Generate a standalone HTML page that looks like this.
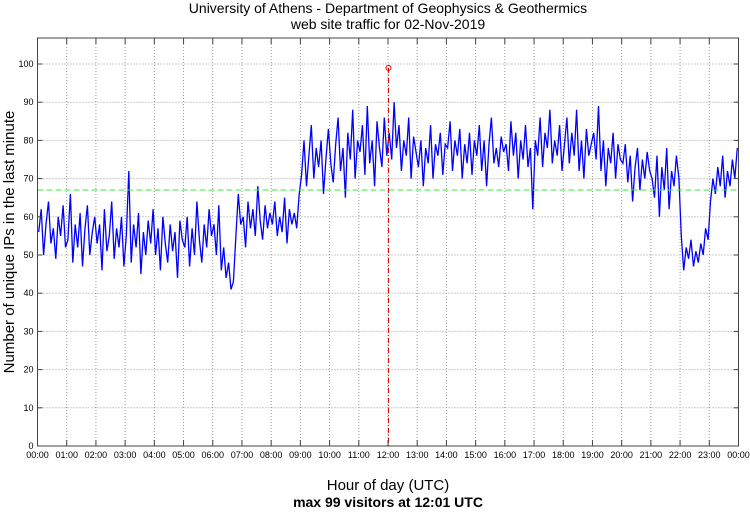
<!DOCTYPE html>
<html><head><meta charset="utf-8"><style>
body{margin:0;background:#fff;}
svg text{font-family:"Liberation Sans",sans-serif;}
</style></head><body>
<svg id="chart" width="750" height="511" xmlns="http://www.w3.org/2000/svg">
<text x="388" y="13" font-size="14" text-anchor="middle">University of Athens - Department of Geophysics &amp; Geothermics</text>
<text x="388" y="29" font-size="14" text-anchor="middle">web site traffic for 02-Nov-2019</text>
<text x="388" y="490" font-size="15" text-anchor="middle">Hour of day (UTC)</text>
<text x="388" y="507" font-size="14" font-weight="bold" text-anchor="middle">max 99 visitors at 12:01 UTC</text>
<text transform="translate(14,242) rotate(-90)" font-size="15" text-anchor="middle">Number of unique IPs in the last minute</text>
<g id="grid"></g><g id="series"></g><g id="axes"></g>
</svg>
<script>
const yTicks=[0,10,20,30,40,50,60,70,80,90,100];
const hourLabels=["00:00","01:00","02:00","03:00","04:00","05:00","06:00","07:00","08:00","09:00","10:00","11:00","12:00","13:00","14:00","15:00","16:00","17:00","18:00","19:00","20:00","21:00","22:00","23:00","00:00"];
const avgValue=67;
const maxMinute=721;
const maxValue=99;
const visitors=[
56,62,50,58,64,53,57,49,60,55,63,52,
54,66,48,58,52,61,47,57,63,50,56,60,
53,58,46,62,51,55,64,49,57,52,60,47,
55,72,48,58,52,61,45,56,50,59,53,62,
50,57,46,60,53,48,58,51,56,44,59,54,
52,60,47,57,50,64,54,48,58,52,62,55,
58,50,63,46,52,44,48,41,43,55,66,58,
60,52,64,57,62,55,68,59,54,63,57,61,
58,64,55,60,56,65,53,62,58,61,57,66,
71,80,68,76,84,70,78,73,80,66,75,83,
74,69,79,86,72,78,65,82,75,88,70,80,
77,84,71,89,74,80,68,85,78,73,86,76,
82,75,90,78,84,72,80,76,86,70,81,77,
73,80,68,78,74,84,70,79,76,82,71,79,
78,85,72,80,76,83,70,79,74,82,71,80,
76,84,72,80,68,79,86,74,78,73,81,77,
79,72,85,76,82,70,80,75,84,73,78,62,
80,76,86,73,82,78,88,74,80,76,84,72,
79,86,74,82,76,88,72,80,70,83,76,79,
82,75,89,72,80,68,78,74,82,70,79,75,
74,79,69,76,64,73,78,67,75,70,77,72,
70,65,76,60,73,67,78,62,72,68,76,70,
55,46,52,49,54,47,51,48,53,50,57,54,
64,70,66,73,68,76,65,72,68,75,70,78];
const L=37.5,R=738.5,T=38,B=446;
const NS="http://www.w3.org/2000/svg";
const xs=m=>L+(R-L)*m/1440;
const ys=v=>B-(B-64)*v/100;
function mk(tag,attrs,parent){const e=document.createElementNS(NS,tag);for(const k in attrs)e.setAttribute(k,attrs[k]);document.getElementById(parent).appendChild(e);return e;}
const grid='grid',ax='axes',se='series';
yTicks.forEach(v=>{
 if(v>0){const g=mk('line',{x1:L,x2:R,y1:ys(v),y2:ys(v),stroke:'#999','stroke-dasharray':'1,2','stroke-width':1},grid);
 
 }
 const t=mk('text',{x:L-4,y:ys(v)+3,'font-size':9,'text-anchor':'end'},ax);t.textContent=v;
 
 
 mk('line',{x1:L,x2:L+5,y1:ys(v),y2:ys(v),stroke:'#444'},ax);
 mk('line',{x1:R-5,x2:R,y1:ys(v),y2:ys(v),stroke:'#444'},ax);
});
hourLabels.forEach((h,i)=>{
 const x=xs(i*60);
 if(i>0&&i<24){const g=mk('line',{x1:x,x2:x,y1:T,y2:B,stroke:'#999','stroke-dasharray':'1,2'},grid);
 
 }
 mk('line',{x1:x,x2:x,y1:B-6,y2:B,stroke:'#444'},ax);
 mk('line',{x1:x,x2:x,y1:T,y2:T+6,stroke:'#444'},ax);
 const t=mk('text',{x:x,y:B+12,'font-size':9,'text-anchor':'middle'},ax);t.textContent=h;
 
 
});
const step=1440/visitors.length;
const pts=visitors.map((v,i)=>xs(i*step+step/2).toFixed(1)+','+ys(v).toFixed(1)).join(' ');
const line=mk('polyline',{points:pts,fill:'none',stroke:'#0000ff','stroke-width':1.3},se);


const avg=mk('line',{x1:L,x2:R,y1:ys(avgValue),y2:ys(avgValue),stroke:'#33ee33','stroke-dasharray':'6,3'},se);


const mx=mk('line',{x1:xs(maxMinute),x2:xs(maxMinute),y1:ys(maxValue),y2:B,stroke:'#dd0000','stroke-dasharray':'5,2,1,2'},se);


const mc=mk('circle',{cx:xs(maxMinute),cy:ys(maxValue),r:2.5,fill:'none',stroke:'#dd0000'},se);


const fr=mk('rect',{x:L,y:T,width:R-L,height:B-T,fill:'none',stroke:'#444'},ax);


</script>
</body></html>
